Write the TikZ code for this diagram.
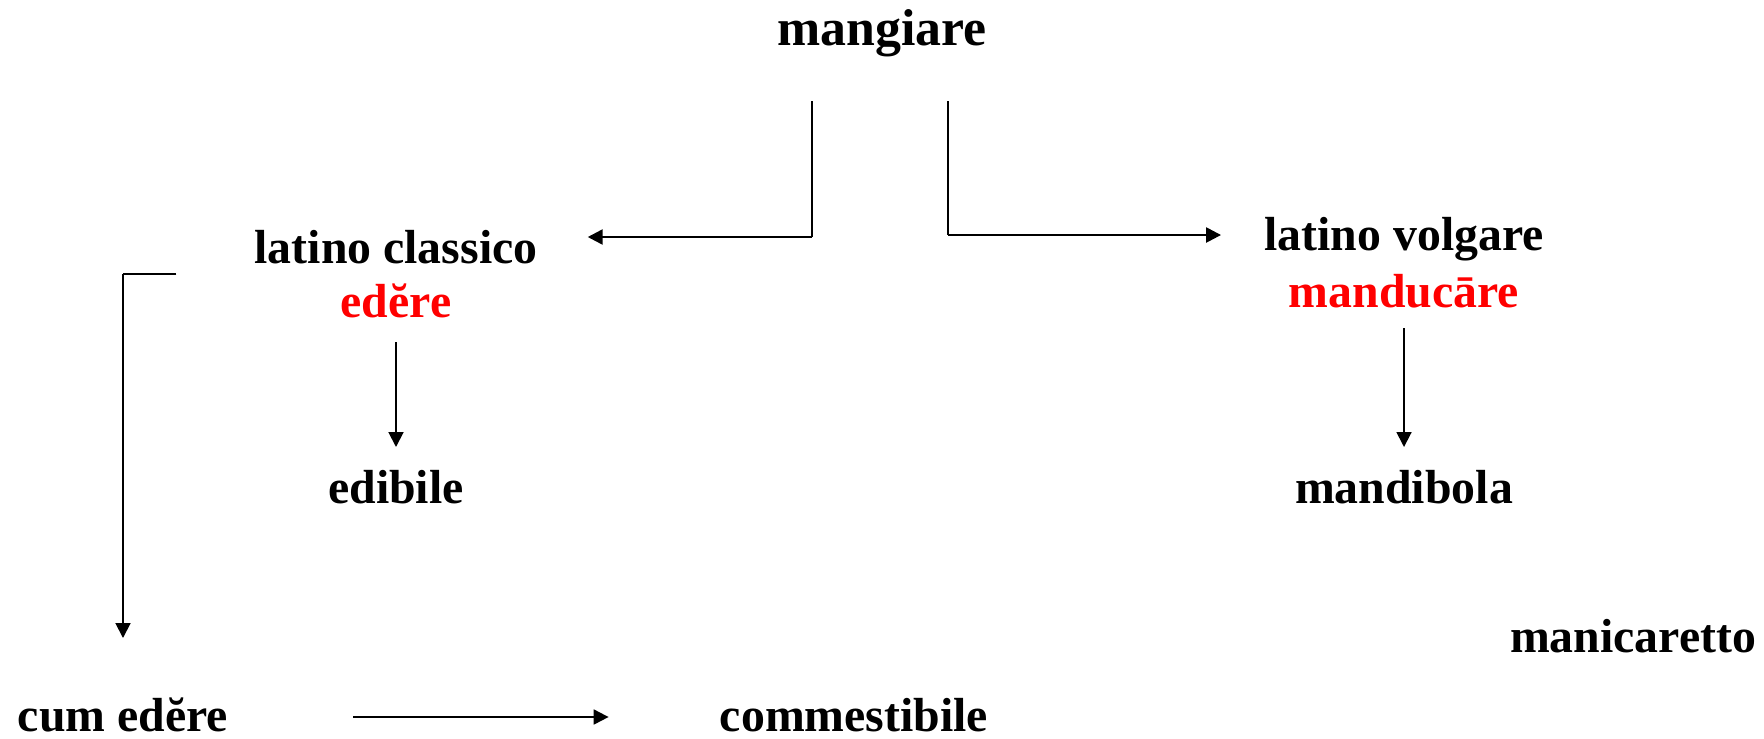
\documentclass[tikz,border=0pt]{standalone}
\usepackage{fontspec}
\setmainfont{Liberation Serif}
\usepackage{xcolor}
\usetikzlibrary{arrows.meta}
\definecolor{latred}{RGB}{255,0,0}

\begin{document}
\begin{tikzpicture}[x=0.02cm, y=-0.02cm,
		word/.style={inner sep=0, anchor=base, font=\bfseries\fontsize{27.2}{30}\selectfont},
		title/.style={word, font=\bfseries\fontsize{29.5}{32}\selectfont},
		root/.style={word, text=latred},
		arr/.style={-{Triangle[length=8.5pt, width=8.5pt]}, line width=1.1pt},
		wide/.style={arr, line width=1.4pt},
		hair/.style={line width=0.6pt}]
					\useasboundingbox (0,0) rectangle (1764,738);
					\node[title] (mangiare) at (882,45) {mangiare};
					\node[word] (classico) at (396,263) {latino classico};
					\node[root] (edere) at (396,317) {edĕre};
					\node[word] (edibile) at (396,503) {edibile};
					\node[word] (volgare) at (1404,250) {latino volgare};
					\node[root] (manducare) at (1404,307) {manducāre};
					\node[word] (mandibola) at (1404,503) {mandibola};
					\node[word] (manicaretto) at (1633,652) {manicaretto};
					\node[word] (cumedere) at (123,731) {cum edĕre};
					\node[word] (commestibile) at (854,731) {commestibile};

					\coordinate (ltop) at ([shift={(-70,56)}]mangiare.base);
					\coordinate (ltip) at ([shift={(50,-26)}]classico.base east);
					\coordinate (lbend) at (ltop |- ltip);
					\coordinate (rtop) at ([shift={(66,56)}]mangiare.base);
					\coordinate (rtip) at ([shift={(-43,-15)}]volgare.base west);
					\coordinate (rbend) at (rtop |- rtip);
					\coordinate (cstart) at ([shift={(-78,11)}]classico.base west);
					\coordinate (cbend) at (cumedere.base |- cstart);

					\draw[hair] (ltop) -- (lbend);
					\draw[wide] (lbend) -- (ltip);
					\draw[hair] (rtop) -- (rbend);
					\draw[wide] (rbend) -- (rtip);
					\draw[arr] ([shift={(0,25)}]edere.base) -- ([shift={(0,-56)}]edibile.base);
					\draw[arr] ([shift={(0,21)}]manducare.base) -- ([shift={(0,-56)}]mandibola.base);
					\draw[hair] (cstart) -- (cbend);
					\draw[arr] (cbend) -- ([shift={(0,-93)}]cumedere.base);
					\draw[arr] ([shift={(125,-14)}]cumedere.base east) -- ([shift={(-111,-14)}]commestibile.base west);
				\end{tikzpicture}
\end{document}
